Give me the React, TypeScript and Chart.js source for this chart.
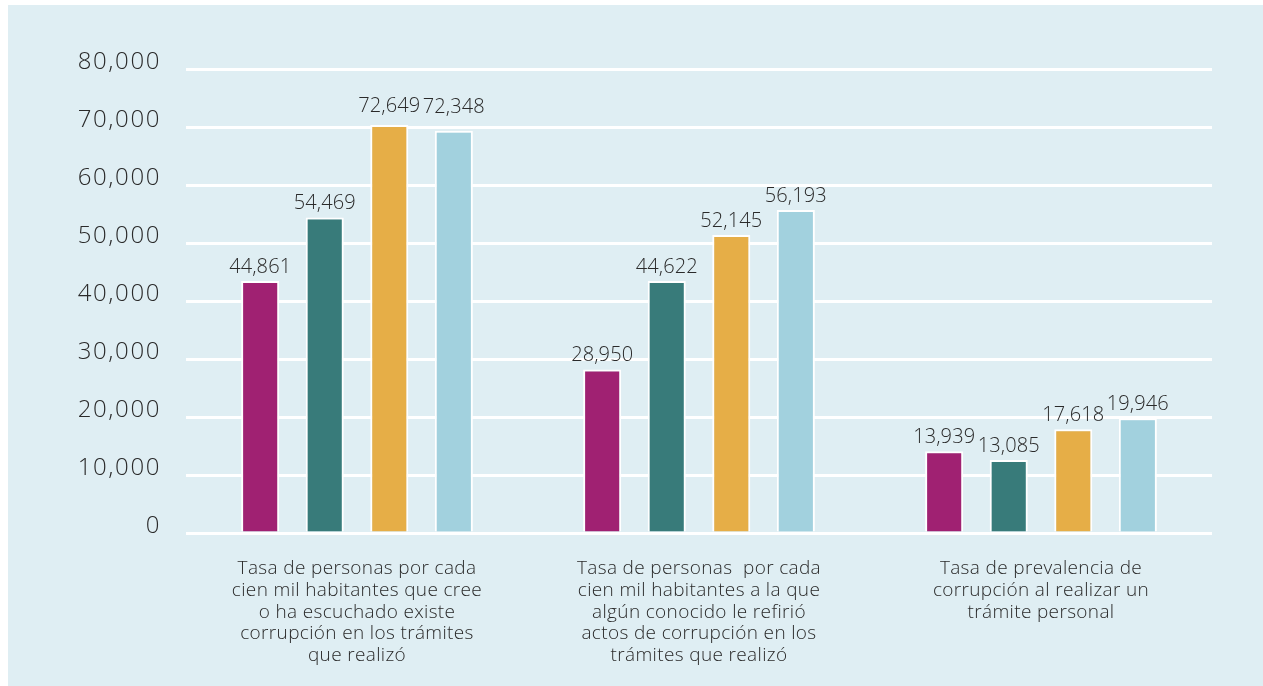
import React, { useEffect, useRef } from "react";
import { Chart, registerables } from "chart.js";

Chart.register(...registerables);

const categories: string[][] = [
  ["Tasa de personas por cada", "cien mil habitantes que cree", "o ha escuchado existe", "corrupción en los trámites", "que realizó"],
  ["Tasa de personas  por cada", "cien mil habitantes a la que", "algún conocido le refirió", "actos de corrupción en los", "trámites que realizó"],
  ["Tasa de prevalencia de", "corrupción al realizar un", "trámite personal"],
];

// bar heights as drawn in the picture
const barsMagenta = [43450, 28200, 14100];
const barsTeal = [54400, 43450, 12600];
const barsGold = [70350, 51400, 17900];
const barsBlue = [69350, 55700, 19800];

// printed values above the bars
const labelsMagenta = [44861, 28950, 13939];
const labelsTeal = [54469, 44622, 13085];
const labelsGold = [72649, 52145, 17618];
const labelsBlue = [72348, 56193, 19946];

const yTicks = [0, 10000, 20000, 30000, 40000, 50000, 60000, 70000, 80000];

const FONT = "'Open Sans', sans-serif";
const TEXT = "#2a2a2a";

function wrapSpacing(scale: any, spacing: string) {
  if (!scale || scale.__wrapped) return;
  const orig = scale.drawLabels.bind(scale);
  scale.drawLabels = (area: any) => {
    const ctx = scale.ctx;
    const prev = ctx.letterSpacing;
    ctx.letterSpacing = spacing;
    orig(area);
    ctx.letterSpacing = prev || "0px";
  };
  scale.__wrapped = true;
}

export default function App() {
  const ref = useRef<HTMLCanvasElement>(null);
  useEffect(() => {
    if (!ref.current) return;
    const valueLabels = [labelsMagenta, labelsTeal, labelsGold, labelsBlue];
    const spacingPlugin = {
      id: "spacing",
      afterLayout(chart: any) {
        wrapSpacing(chart.scales.y, "1.6px");
        wrapSpacing(chart.scales.x, "0.35px");
      },
    };
    const labelPlugin = {
      id: "valueLabels",
      afterDatasetsDraw(chart: any) {
        const ctx = chart.ctx;
        const y = chart.scales.y;
        ctx.save();
        ctx.font = `300 20px ${FONT}`;
        ctx.letterSpacing = "0.1px";
        ctx.fillStyle = TEXT;
        ctx.textAlign = "center";
        ctx.textBaseline = "alphabetic";
        chart.data.datasets.forEach((_: any, di: number) => {
          const meta = chart.getDatasetMeta(di);
          meta.data.forEach((el: any, i: number) => {
            const v = valueLabels[di][i];
            const ty = Math.min(el.y - 8, y.getPixelForValue(v));
            ctx.fillText(v.toLocaleString("en-US"), el.x, ty);
          });
        });
        ctx.letterSpacing = "0px";
        ctx.restore();
      },
    };
    const mk = (data: number[], color: string) => ({
      data,
      backgroundColor: color,
      borderColor: "#ffffff",
      borderWidth: 2,
      barPercentage: 0.59,
      categoryPercentage: 0.755,
    });
    const chart = new Chart(ref.current, {
      type: "bar",
      data: {
        labels: categories,
        datasets: [
          mk(barsMagenta, "#A02172"),
          mk(barsTeal, "#387B7A"),
          mk(barsGold, "#E6AE47"),
          mk(barsBlue, "#A2D1DE"),
        ],
      },
      options: {
        animation: false,
        responsive: false,
        layout: { padding: { top: 64, right: 51, left: 0, bottom: 0 } },
        plugins: { legend: { display: false }, tooltip: { enabled: false } },
        scales: {
          x: {
            grid: { display: false },
            border: { display: false },
            ticks: {
              padding: 17,
              color: TEXT,
              font: { family: FONT, size: 19, weight: "300", lineHeight: 1.14 },
              maxRotation: 0,
              autoSkip: false,
            },
            afterFit: (s: any) => {
              s.height = 153;
            },
          },
          y: {
            min: 0,
            max: 80000,
            afterBuildTicks: (s: any) => {
              s.ticks = yTicks.map((v) => ({ value: v }));
            },
            grid: { color: "#ffffff", lineWidth: 3, drawTicks: false },
            border: { display: false },
            ticks: {
              padding: 25,
              labelOffset: -7,
              color: TEXT,
              font: { family: FONT, size: 24, weight: "300" },
              callback: (v: any) => Number(v).toLocaleString("en-US"),
            },
            afterFit: (s: any) => {
              s.width = 178;
            },
          },
        },
      },
      plugins: [spacingPlugin, labelPlugin],
    } as any);
    return () => chart.destroy();
  }, []);
  return (
    <div
      style={{
        position: "absolute",
        left: 8,
        top: 5,
        width: 1255,
        height: 681,
        background: "#DFEEF3",
      }}
    >
      <canvas ref={ref} width={1255} height={681} style={{ display: "block" }} />
    </div>
  );
}
